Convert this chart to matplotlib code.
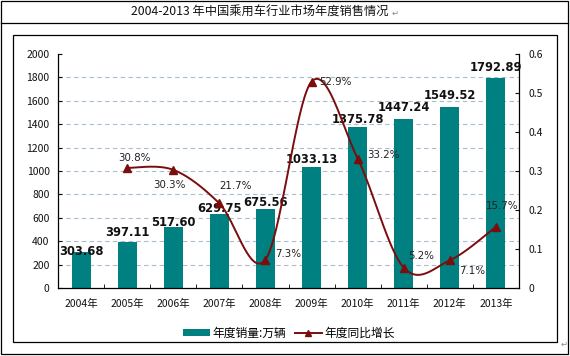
import numpy as np
import matplotlib
matplotlib.use("Agg")
import matplotlib.pyplot as plt
from matplotlib.patches import Rectangle
from matplotlib.lines import Line2D

plt.rcParams['font.family'] = ['Noto Sans CJK SC', 'DejaVu Sans']

# ---- data ----
years = ["2004年", "2005年", "2006年", "2007年", "2008年",
         "2009年", "2010年", "2011年", "2012年", "2013年"]
sales = [303.68, 397.11, 517.60, 629.75, 675.56,
         1033.13, 1375.78, 1447.24, 1549.52, 1792.89]
growth_years_idx = [1, 2, 3, 4, 5, 6, 7, 8, 9]
growth = [0.308, 0.303, 0.217, 0.073, 0.529, 0.332, 0.052, 0.071, 0.157]
growth_labels = ["30.8%", "30.3%", "21.7%", "7.3%", "52.9%",
                 "33.2%", "5.2%", "7.1%", "15.7%"]
left_ticks = list(range(0, 2001, 200))
right_ticks = [0, 0.1, 0.2, 0.3, 0.4, 0.5, 0.6]
title = "2004-2013 年中国乘用车行业市场年度销售情况"
legend_labels = ["年度销量:万辆", "年度同比增长"]

# ---- styling / layout ----
W, H = 570, 356
BAR_C = "#008080"
LINE_C = "#7b0d0d"
GRID_C = "#a8bccf"
# label offsets in pixels (dx, dy)
bar_lbl_dy = [1, 9, 5, 6, 6, 8, 8, 11, 11, 11]
pct_lbl_off = [(7, 10), (-4, -15), (16, 17), (23, 6), (24, 0),
               (26, 4), (17, 12), (22, -11), (6, 21)]

fig = plt.figure(figsize=(W / 100, H / 100), dpi=100)

def fx(px):
    return px / W

def fy(py):
    return 1 - py / H

# frames
fig.add_artist(Rectangle((fx(1), fy(354)), fx(567), (353) / H, transform=fig.transFigure,
                         fill=False, ec="black", lw=0.9))
fig.add_artist(Line2D([fx(1), fx(568)], [fy(23), fy(23)], transform=fig.transFigure,
                      color="black", lw=0.9))
fig.add_artist(Rectangle((fx(13), fy(342)), fx(544), (307) / H, transform=fig.transFigure,
                         fill=False, ec="black", lw=0.9))

fig.text(fx(260), fy(12), title, ha="center", va="center", fontsize=8.8, color="#111111")
fig.text(fx(395), fy(13), "↵", ha="center", va="center", fontsize=6,
         color="#888888", family=["DejaVu Sans"])
fig.text(fx(564), fy(344), "↵", ha="center", va="center", fontsize=6,
         color="#888888", family=["DejaVu Sans"])

ax = fig.add_axes([fx(58), fy(288), (519 - 58) / W, (288 - 54) / H])
x = np.arange(len(years))
ax.bar(x, sales, width=0.41, color=BAR_C, zorder=2)
ax.set_xlim(-0.5, len(years) - 0.5)
ax.set_ylim(0, 2000)
ax.set_yticks(left_ticks)
ax.set_yticklabels([str(v) for v in left_ticks])
for v in left_ticks[1:-1]:
    ax.axhline(v, color=GRID_C, lw=0.8, ls=(0, (4, 3)), zorder=1)
ax.set_xticks(x)
ax.set_xticklabels(years)
ax.set_xticks(np.arange(-0.5, len(years)), minor=True)
ax.tick_params(axis="x", which="major", length=0, pad=8, labelsize=7.5, colors="#111111")
ax.tick_params(axis="x", which="minor", length=3, direction="in", color="black")
ax.tick_params(axis="y", length=3, direction="in", pad=6, labelsize=7.5, colors="#111111")
ax.spines["top"].set_visible(False)
ax.spines["right"].set_visible(False)
for s in ("left", "bottom"):
    ax.spines[s].set_color("black")
    ax.spines[s].set_linewidth(0.9)

px2pt = 0.72
for i, v in enumerate(sales):
    ax.annotate(f"{v:.2f}", (x[i], v), xytext=(0, bar_lbl_dy[i] * px2pt),
                textcoords="offset points", ha="center", va="center",
                fontsize=8.3, fontweight="bold", color="#111111",
                family=["DejaVu Sans"], zorder=5)

ax2 = ax.twinx()
ax2.set_ylim(0, 0.6)
ax2.set_yticks(right_ticks)
ax2.set_yticklabels([("0" if t == 0 else f"{t:.1f}") for t in right_ticks])
ax2.tick_params(axis="y", length=3, direction="in", pad=7, labelsize=7.5, colors="#111111")
ax2.spines["top"].set_visible(False)
ax2.spines["left"].set_visible(False)
ax2.spines["bottom"].set_visible(False)
ax2.spines["right"].set_color("black")
ax2.spines["right"].set_linewidth(0.9)

# Excel-style smoothed line (Catmull-Rom Bezier)
P = np.column_stack([np.array(growth_years_idx, float), np.array(growth, float)])
n = len(P)
curve = []
t = np.linspace(0, 1, 40)[:, None]
for i in range(n - 1):
    p0 = P[i - 1] if i > 0 else P[i]
    p1 = P[i]
    p2 = P[i + 1]
    p3 = P[i + 2] if i + 2 < n else P[i + 1]
    c1 = p1 + (p2 - p0) / 6
    c2 = p2 - (p3 - p1) / 6
    seg = ((1 - t) ** 3) * p1 + 3 * ((1 - t) ** 2) * t * c1 + 3 * (1 - t) * t ** 2 * c2 + t ** 3 * p2
    curve.append(seg)
curve = np.vstack(curve)
ax2.plot(curve[:, 0], curve[:, 1], color=LINE_C, lw=1.4, zorder=3)
ax2.plot(P[:, 0], P[:, 1], ls="none", marker="^", ms=6, color=LINE_C, zorder=4)

for i, lbl in enumerate(growth_labels):
    dx, dy = pct_lbl_off[i]
    ax2.annotate(lbl, (P[i, 0], P[i, 1]), xytext=(dx * px2pt, dy * px2pt),
                 textcoords="offset points", ha="center", va="center",
                 fontsize=7.4, color="#222222", family=["DejaVu Sans"])

# legend
h1 = Rectangle((0, 0), 1, 1, fc=BAR_C, ec="none")
h2 = Line2D([], [], color=LINE_C, lw=1.4, marker="^", ms=5)
fig.legend([h1, h2], legend_labels, loc="center", bbox_to_anchor=(fx(289), fy(333)),
           ncol=2, frameon=False, fontsize=8.5, handlelength=2.3, handleheight=0.5,
           handletextpad=0.25, columnspacing=0.7, borderpad=0, borderaxespad=0)

fig.savefig("out.png", dpi=100)
